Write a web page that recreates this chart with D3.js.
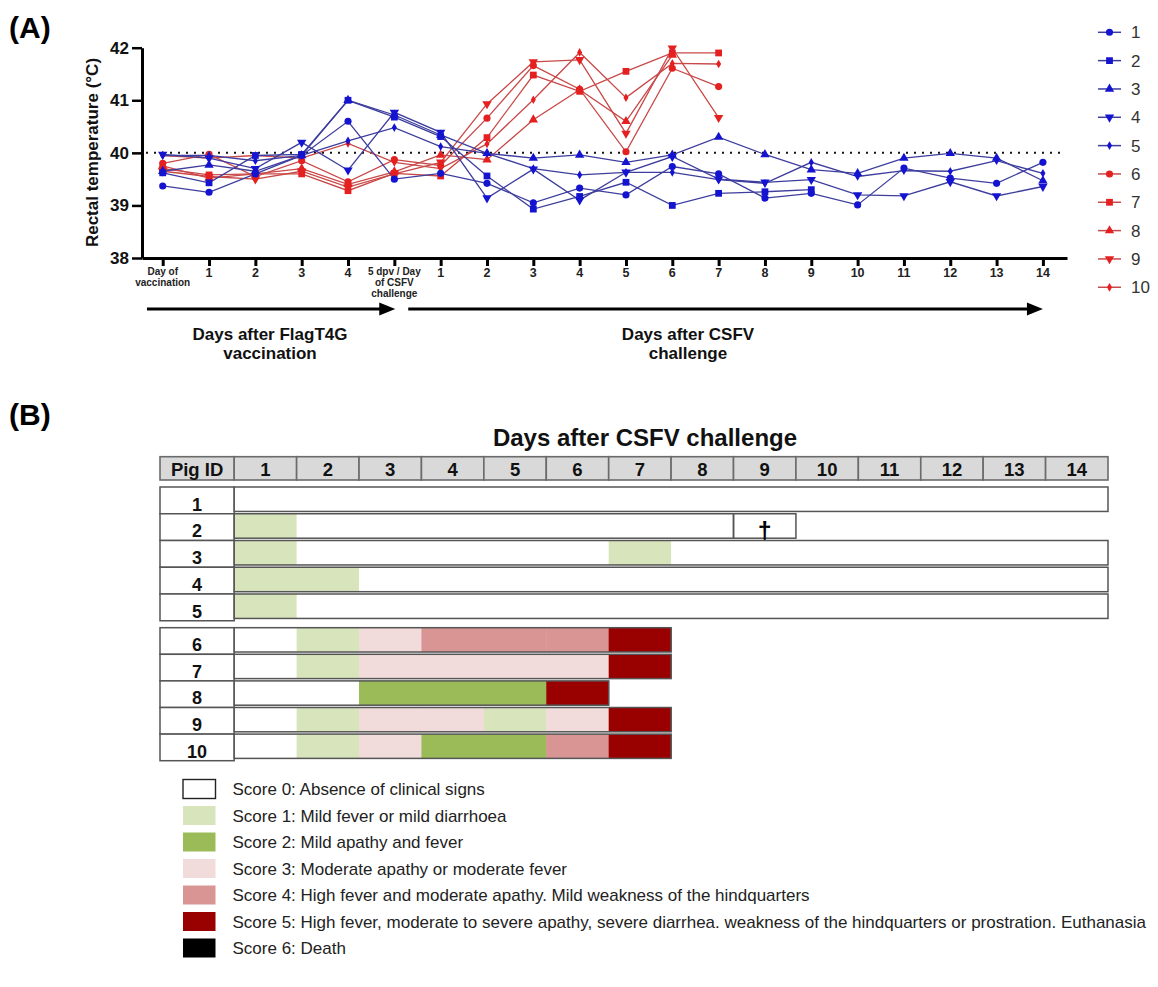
<!DOCTYPE html>
<html><head><meta charset="utf-8">
<script src="https://cdn.jsdelivr.net/npm/d3@7"></script>
<style>
body{margin:0;background:#fff}
svg{display:block}
text{font-family:Arial,"Liberation Sans",Helvetica,sans-serif}
</style>
</head><body>
<svg id="chart" width="1158" height="987"></svg>
<script>
// ---------------- DATA ----------------
// Panel A: x categories (index 0..19)
const xLabels = ["Day of\nvaccination","1","2","3","4","5 dpv / Day\nof CSFV\nchallenge",
  "1","2","3","4","5","6","7","8","9","10","11","12","13","14"];
const yTicks = [38,39,40,41,42];
const feverThreshold = 40;
const pigNames = ["1","2","3","4","5","6","7","8","9","10"];
// rectal temperatures (°C) by x index; shorter arrays = animal removed
const pig1  = [39.37,39.25,39.60,39.95,40.60,39.50,39.61,39.42,39.05,39.33,39.20,39.74,39.60,39.14,39.23,39.01,39.71,39.52,39.42,39.82];
const pig2  = [39.62,39.43,39.95,39.97,41.00,40.68,40.31,39.56,38.93,39.17,39.44,39.00,39.23,39.26,39.30];
const pig3  = [39.65,39.77,39.65,39.95,41.00,40.72,40.34,39.99,39.90,39.96,39.82,39.96,40.30,39.97,39.68,39.61,39.90,39.99,39.90,39.47];
const pig4  = [39.97,39.90,39.70,40.20,39.67,40.77,40.39,39.14,39.69,39.10,39.63,39.93,39.50,39.44,39.49,39.20,39.18,39.45,39.18,39.36];
const pig5  = [39.95,39.95,39.85,39.95,40.23,40.48,40.12,39.99,39.70,39.58,39.63,39.63,39.49,39.42,39.82,39.55,39.66,39.65,39.85,39.61];
const pig6  = [39.80,39.97,39.55,39.85,39.45,39.87,39.76,40.66,41.66,41.21,40.02,41.61,41.26];
const pig7  = [39.70,39.58,39.60,39.60,39.28,39.61,39.56,40.29,41.48,41.17,41.55,41.90,41.90];
const pig8  = [39.75,39.52,39.60,39.70,39.40,39.64,39.96,39.87,40.63,41.20,40.60,41.86];
const pig9  = [39.65,39.55,39.50,39.65,39.35,39.60,39.82,40.93,41.73,41.77,40.37,41.99,40.67];
const pig10 = [39.95,39.90,39.95,39.90,40.18,39.82,39.70,40.17,41.01,41.91,41.05,41.70,41.69];
const tempSeries = [pig1,pig2,pig3,pig4,pig5,pig6,pig7,pig8,pig9,pig10];
const pigGroup = ["blue","blue","blue","blue","blue","red","red","red","red","red"];
const pigShape = ["circle","square","triangle","triangleDown","diamond","circle","square","triangle","triangleDown","diamond"];

// Panel B: clinical scores by day after challenge (days 1..14)
const challengeDays = [1,2,3,4,5,6,7,8,9,10,11,12,13,14];
const score1  = [0,0,0,0,0,0,0,0,0,0,0,0,0,0];
const score2  = [1,0,0,0,0,0,0,0,0];
const score3  = [1,0,0,0,0,0,1,0,0,0,0,0,0,0];
const score4  = [1,1,0,0,0,0,0,0,0,0,0,0,0,0];
const score5  = [1,0,0,0,0,0,0,0,0,0,0,0,0,0];
const score6  = [0,1,3,4,4,4,5];
const score7  = [0,1,3,3,3,3,5];
const score8  = [0,0,2,2,2,5];
const score9  = [0,1,3,3,1,3,5];
const score10 = [0,1,3,2,2,4,5];
const scoreRows = [score1,score2,score3,score4,score5,score6,score7,score8,score9,score10];
const deathDay = {"2":9};
const scoreLabels = [
  "Score 0: Absence of clinical signs",
  "Score 1: Mild fever or mild diarrhoea",
  "Score 2: Mild apathy and fever",
  "Score 3: Moderate apathy or moderate fever",
  "Score 4: High fever and moderate apathy. Mild weakness of the hindquarters",
  "Score 5: High fever, moderate to severe apathy, severe diarrhea. weakness of the hindquarters or prostration. Euthanasia",
  "Score 6: Death"];
const scoreColors = ["#ffffff","#d8e4bc","#9bbb59","#f2dcdb","#d99594","#990000","#000000"];

// ---------------- PANEL A ----------------
const svg = d3.select("#chart");
const colors = {blue:{line:"#3d3d9e",mark:"#1414d0"}, red:{line:"#c94848",mark:"#e42020"}};
const symType = {circle:d3.symbolCircle,square:d3.symbolSquare,triangle:d3.symbolTriangle,triangleDown:d3.symbolTriangle,diamond:d3.symbolDiamond};
const symSize = {circle:40,square:46,triangle:38,triangleDown:38,diamond:22};

svg.append("text").attr("x",9).attr("y",38).attr("font-size",30).attr("font-weight","bold").text("(A)");

const x = d3.scaleLinear().domain([-0.447,19.52]).range([142,1067]);
const y = d3.scaleLinear().domain([38,42]).range([258,47.7]);

const gA = svg.append("g");
// y axis
const yAx = gA.append("g").attr("transform","translate(142,0)")
  .call(d3.axisLeft(y).tickValues(yTicks).tickSize(10).tickSizeOuter(0).tickPadding(3).tickFormat(d3.format("d")));
yAx.select(".domain").attr("stroke","#000").attr("stroke-width",3);
yAx.selectAll(".tick line").attr("stroke","#000").attr("stroke-width",2.5);
yAx.selectAll(".tick text").attr("font-size",17).attr("font-weight","bold").attr("fill","#111")
  .attr("font-family","Arial, 'Liberation Sans', sans-serif");

// x axis
const xAx = gA.append("g").attr("transform","translate(0,258)")
  .call(d3.axisBottom(x).tickValues(d3.range(xLabels.length)).tickSize(8).tickSizeOuter(0).tickFormat(""));
xAx.select(".domain").attr("stroke","#000").attr("stroke-width",3);
xAx.selectAll(".tick line").attr("stroke","#000").attr("stroke-width",3);
xLabels.forEach((lab,i)=>{
  const lines = lab.split("\n");
  const multi = lines.length>1;
  const t = gA.append("text").attr("text-anchor","middle").attr("font-weight","bold")
    .attr("fill","#222").attr("font-size", multi?10:12.5);
  lines.forEach((ln,j)=>{
    t.append("tspan").attr("x",x(i)).attr("y",(multi?275:276.5)+j*11.2).text(ln);
  });
});

// y title
gA.append("text").attr("transform","translate(98,152.5) rotate(-90)").attr("text-anchor","middle")
  .attr("font-size",17).attr("font-weight","bold").attr("fill","#111").text("Rectal temperature (°C)");

// threshold dotted line
gA.append("line").attr("x1",146).attr("x2",1066).attr("y1",y(feverThreshold)).attr("y2",y(feverThreshold))
  .attr("stroke","#111").attr("stroke-width",2).attr("stroke-dasharray","2,6");

const line = d3.line().x((d,i)=>x(i)).y(d=>y(d));
const order = [5,6,7,8,9,0,1,2,3,4];
order.forEach(s=>{
  gA.append("path").attr("d",line(tempSeries[s])).attr("fill","none")
    .attr("stroke",colors[pigGroup[s]].line).attr("stroke-width",1.3);
});
function symPath(shape){ return d3.symbol().type(symType[shape]).size(symSize[shape])(); }
order.forEach(s=>{
  const sh = pigShape[s];
  gA.selectAll(null).data(tempSeries[s]).enter().append("path")
    .attr("d",symPath(sh))
    .attr("transform",(d,i)=>`translate(${x(i)},${y(d)})`+(sh==="triangleDown"?" rotate(180)":""))
    .attr("fill",colors[pigGroup[s]].mark);
});

// legend A
const legA = gA.append("g");
pigNames.forEach((nm,k)=>{
  const ly = 32.3 + k*28.33, sh = pigShape[k], c = colors[pigGroup[k]];
  legA.append("line").attr("x1",1098).attr("x2",1121).attr("y1",ly).attr("y2",ly).attr("stroke",c.line).attr("stroke-width",1.5);
  legA.append("path").attr("d",symPath(sh)).attr("fill",c.mark)
    .attr("transform",`translate(1109.5,${ly})`+(sh==="triangleDown"?" rotate(180)":""));
  legA.append("text").attr("x",1131).attr("y",ly).attr("dy","0.36em").attr("font-size",17).attr("fill","#333").text(nm);
});

// arrows
function arrow(x1,x2,yy){
  gA.append("line").attr("x1",x1).attr("x2",x2-12).attr("y1",yy).attr("y2",yy).attr("stroke","#000").attr("stroke-width",3.2);
  gA.append("path").attr("d",`M${x2-16},${yy-6.5}L${x2},${yy}L${x2-16},${yy+6.5}Z`).attr("fill","#000");
}
const arrowY = 309;
arrow(x(-0.34),x(5.02),arrowY);
arrow(x(5.3),x(19),arrowY);
[["Days after FlagT4G","vaccination",270],["Days after CSFV","challenge",688]].forEach(a=>{
  const t = gA.append("text").attr("text-anchor","middle").attr("font-size",17).attr("font-weight","bold").attr("fill","#111");
  t.append("tspan").attr("x",a[2]).attr("y",340).text(a[0]);
  t.append("tspan").attr("x",a[2]).attr("y",359).text(a[1]);
});

// ---------------- PANEL B ----------------
const gB = svg.append("g");
gB.append("text").attr("x",9).attr("y",425).attr("font-size",30).attr("font-weight","bold").text("(B)");
gB.append("text").attr("x",645).attr("y",446).attr("text-anchor","middle").attr("font-size",24).attr("font-weight","bold")
  .attr("fill","#111").text("Days after CSFV challenge");

const idX0 = 160, idX1 = 234.2;
const colX = d3.scaleBand().domain(challengeDays).range([idX1,1108]);
const hdrTop = 456.7, hdrH = 23.3;
// header
gB.append("rect").attr("x",idX0).attr("y",hdrTop).attr("width",idX1-idX0).attr("height",hdrH)
  .attr("fill","#d9d9d9").attr("stroke","#6b6b6b").attr("stroke-width",1.6);
gB.append("text").attr("x",(idX0+idX1)/2).attr("y",hdrTop+19.5).attr("text-anchor","middle")
  .attr("font-size",18.5).attr("font-weight","bold").attr("fill","#111").text("Pig ID");
challengeDays.forEach(d=>{
  gB.append("rect").attr("x",colX(d)).attr("y",hdrTop).attr("width",colX.bandwidth()).attr("height",hdrH)
    .attr("fill","#d9d9d9").attr("stroke","#6b6b6b").attr("stroke-width",1.6);
  gB.append("text").attr("x",colX(d)+colX.bandwidth()/2).attr("y",hdrTop+19.5).attr("text-anchor","middle")
    .attr("font-size",18.5).attr("font-weight","bold").attr("fill","#111").text(d);
});

const rowsA = d3.scaleBand().domain(pigNames.slice(0,5)).range([487,487+5*26.75]);
const rowsB = d3.scaleBand().domain(pigNames.slice(5)).range([627.7,627.7+5*26.6]);
pigNames.forEach((nm,k)=>{
  const sc = k<5?rowsA:rowsB;
  const top = sc(nm), bw = sc.bandwidth(), h = bw-2.3;
  // id cell
  gB.append("rect").attr("x",idX0).attr("y",top).attr("width",idX1-idX0).attr("height",bw)
    .attr("fill","#fff").attr("stroke","#555").attr("stroke-width",1.5);
  gB.append("text").attr("x",(idX0+idX1)/2).attr("y",top+bw-3.2).attr("text-anchor","middle")
    .attr("font-size",18).attr("font-weight","bold").attr("fill","#111").text(nm);
  const sRow = scoreRows[k];
  const dd = deathDay[nm];
  const nLive = dd ? dd-1 : sRow.length;
  sRow.forEach((s,i)=>{
    gB.append("rect").attr("x",colX(challengeDays[i])).attr("y",top).attr("width",colX.bandwidth()+0.5).attr("height",h)
      .attr("fill",scoreColors[s]);
  });
  gB.append("rect").attr("x",colX(1)).attr("y",top).attr("width",colX(challengeDays[nLive-1])+colX.bandwidth()-colX(1)).attr("height",h)
    .attr("fill","none").attr("stroke","#555").attr("stroke-width",1.5);
  if(dd){
    gB.append("rect").attr("x",colX(dd)).attr("y",top).attr("width",colX.bandwidth()).attr("height",h)
      .attr("fill","none").attr("stroke","#555").attr("stroke-width",1.5);
    gB.append("text").attr("x",colX(dd)+colX.bandwidth()/2).attr("y",top+h+1.5).attr("text-anchor","middle")
      .attr("font-family","'DejaVu Sans', Arial, sans-serif")
      .attr("font-size",25).attr("font-weight","bold").attr("fill","#000").text("†");
  }
});

// legend B
scoreLabels.forEach((lab,k)=>{
  const cy = 789 + k*26.5;
  gB.append("rect").attr("x",183).attr("y",cy-9.5).attr("width",32.5).attr("height",19)
    .attr("fill",scoreColors[k]).attr("stroke",k===0?"#222":"none").attr("stroke-width",1.4);
  gB.append("text").attr("x",232.5).attr("y",cy).attr("dy","0.36em").attr("font-size",17).attr("fill","#222").text(lab);
});
</script>
</body></html>
